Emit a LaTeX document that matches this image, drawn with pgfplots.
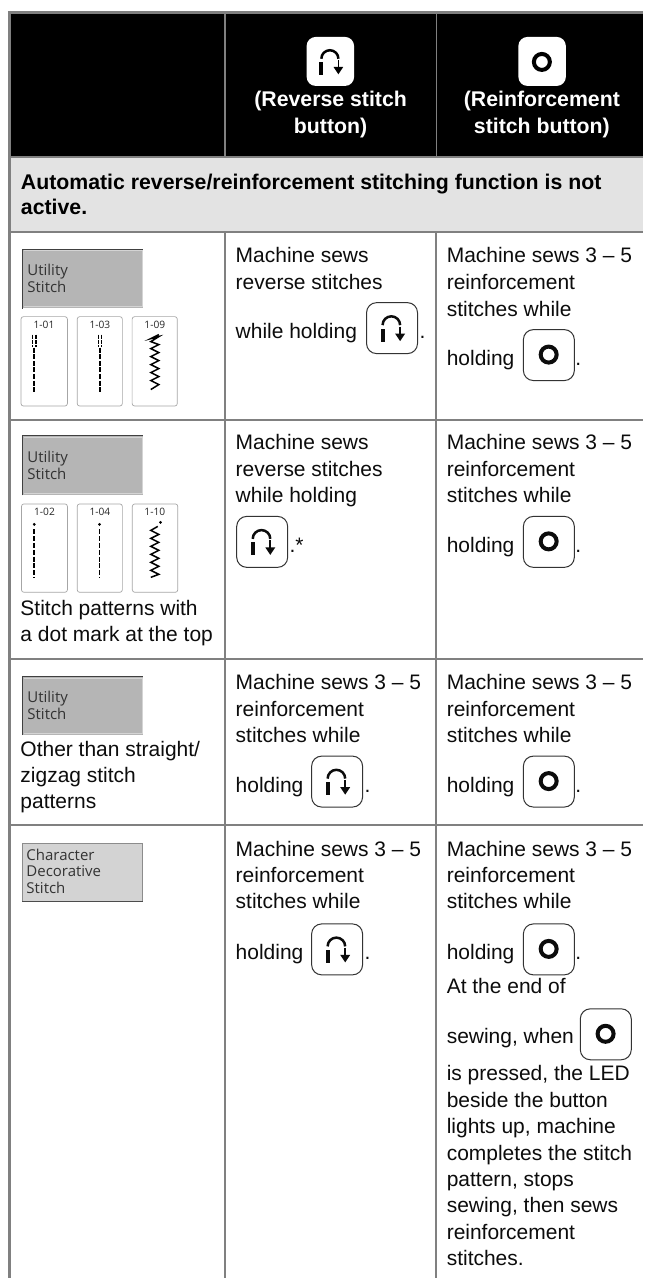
\documentclass[border=0pt]{standalone}
\usepackage{pgfplots}
\pgfplotsset{compat=1.18}
\usepackage{fontspec}
\setmainfont{Liberation Sans}
\newfontfamily\osans{Open Sans}
\definecolor{rulec}{HTML}{808080}
\definecolor{band}{HTML}{E3E3E3}
\definecolor{ink}{HTML}{0C0C0C}
\definecolor{boxa}{HTML}{B5B5B5}
\definecolor{boxb}{HTML}{D3D3D3}
\newcommand{\bodyf}{\fontsize{21}{27}\selectfont\color{ink}}
\newcommand{\bbodyf}{\fontsize{21.3}{27}\selectfont\bfseries}
\newcommand{\txt}[3]{\node[anchor=base west,inner sep=0pt,outer sep=0pt] at (axis cs:#1,#2) {\bodyf #3};}
\newcommand{\btxt}[3]{\node[anchor=base west,inner sep=0pt,outer sep=0pt] at (axis cs:#1,#2) {\bbodyf #3};}
\newcommand{\htxt}[3]{\node[anchor=base,inner sep=0pt,outer sep=0pt,text=white] at (axis cs:#1,#2) {\bbodyf #3};}
\newcommand{\osn}[3]{\node[anchor=base west,inner sep=0pt,outer sep=0pt,text=black!80] at (axis cs:#1,#2) {\osans\fontsize{15}{17}\selectfont #3};}
\newcommand{\tilelab}[3]{\node[anchor=base,inner sep=0pt,outer sep=0pt,text=black!85] at (axis cs:#1,#2) {\osans\fontsize{10.2}{12}\selectfont #3};}
% icons, drawn relative to the top left corner of a 51 x 51 button
\newcommand{\revicon}{%
  \draw[line width=2.5pt,ink] (16,22.5) arc[start angle=180,end angle=360,radius=8.8];
  \fill[ink] (14,26) rectangle (18,39);
  \draw[line width=1.6pt,ink] (33.6,24) -- (33.6,32);
  \fill[ink] (28.6,31) -- (38.6,31) -- (33.6,38.5) -- cycle;}
\newcommand{\recicon}{\draw[line width=4pt,ink] (25.3,25) circle[radius=8];}
\newcommand{\revbtn}[2]{\begin{scope}[shift={(axis cs:#1,#2)},x=1pt,y=-1pt]
  \draw[line width=1pt,black!80,rounded corners=10pt] (0,0) rectangle (51,51); \revicon\end{scope}}
\newcommand{\recbtn}[2]{\begin{scope}[shift={(axis cs:#1,#2)},x=1pt,y=-1pt]
  \draw[line width=1pt,black!80,rounded corners=10pt] (0,0) rectangle (51,51); \recicon\end{scope}}
\newcommand{\tile}[4]{\draw[line width=0.7pt,black!35,rounded corners=2.5pt] (axis cs:#1,#2) rectangle (axis cs:#3,#4);}
\begin{document}
\begin{tikzpicture}
\begin{axis}[
  scale only axis, width=644pt, height=1279pt,
  xmin=0, xmax=644, ymin=0, ymax=1279, y dir=reverse,
  hide axis, clip=false]
% page
\addplot[fill=white,draw=none] coordinates {(0,0)(644,0)(644,1279)(0,1279)} --cycle;
% header and band
\addplot[fill=black,draw=none] coordinates {(9,12)(644,12)(644,157)(9,157)} --cycle;
\addplot[fill=band,draw=none] coordinates {(9,157)(644,157)(644,232)(9,232)} --cycle;
% rules
\addplot[rulec,line width=2.6pt] coordinates {(8,12.3)(644,12.3)};
\addplot[rulec,line width=3pt] coordinates {(9.5,11)(9.5,1279)};
\addplot[rulec,line width=1.6pt] coordinates {(225.5,12)(225.5,157)};
\addplot[rulec,line width=1.6pt] coordinates {(437,12)(437,157)};
\addplot[rulec,line width=2pt] coordinates {(225.5,232)(225.5,1279)};
\addplot[rulec,line width=2pt] coordinates {(437,232)(437,1279)};
\addplot[rulec,line width=2.2pt] coordinates {(9,157.3)(644,157.3)};
\addplot[rulec,line width=2pt] coordinates {(9,232.3)(644,232.3)};
\addplot[rulec,line width=2pt] coordinates {(9,420)(644,420)};
\addplot[rulec,line width=2pt] coordinates {(9,660)(644,660)};
\addplot[rulec,line width=2pt] coordinates {(9,826)(644,826)};
% header buttons
\begin{scope}[shift={(axis cs:307,37)},x=1pt,y=-1pt]
  \fill[white,rounded corners=9pt] (0,0) rectangle (47.5,49);
  \begin{scope}[shift={(-0.8,0)},x=0.97pt,y=-0.97pt]\draw[line width=2.5pt,black] (16,22.5) arc[start angle=180,end angle=360,radius=8.8];
  \fill[black] (14,26) rectangle (18,39);
  \draw[line width=1.6pt,black] (33.6,24) -- (33.6,32);
  \fill[black] (28.6,31) -- (38.6,31) -- (33.6,38.5) -- cycle;\end{scope}
\end{scope}
\begin{scope}[shift={(axis cs:519,37)},x=1pt,y=-1pt]
  \fill[white,rounded corners=9pt] (0,0) rectangle (47.5,49);
  \draw[line width=4pt,black] (23.5,25) circle[radius=8];
\end{scope}
\htxt{331}{107}{(Reverse stitch}
\htxt{331}{134}{button)}
\htxt{542.5}{107}{(Reinforcement}
\htxt{542.5}{134}{stitch button)}
\btxt{21}{190}{Automatic reverse/reinforcement stitching function is not}
\btxt{21}{215}{active.}
% ---------- row 1
\addplot[fill=boxa,draw=none] coordinates {(22,249)(143,249)(143,308.5)(22,308.5)} --cycle;
\addplot[black!75,line width=1pt] coordinates {(22.5,309)(22.5,249.5)(143,249.5)};
\addplot[black!17,line width=0.8pt] coordinates {(24,251)(142.5,251)(142.5,307)(24,307)};
\osn{27.5}{276}{Utility}
\osn{27.5}{293}{Stitch}
\tile{21}{317}{67.5}{406.5}
\tile{77.3}{317}{122.5}{406.5}
\tile{132.3}{317}{177.5}{406.5}
\tilelab{44}{329}{1-01}
\tilelab{100}{329}{1-03}
\tilelab{155}{329}{1-09}
\addplot[black,line width=1.2pt,dash pattern=on 4pt off 1.4pt] coordinates {(32.8,335)(32.8,347)};
\addplot[black,line width=1.2pt,dash pattern=on 4pt off 1.4pt] coordinates {(36,335)(36,347)};
\addplot[black,line width=1.8pt,dash pattern=on 5pt off 1.6pt] coordinates {(33.7,348)(33.7,392)};
\addplot[black,line width=1.2pt,dash pattern=on 4pt off 1.4pt] coordinates {(98.7,335)(98.7,347)};
\addplot[black,line width=1.2pt,dash pattern=on 4pt off 1.4pt] coordinates {(102,335)(102,347)};
\addplot[black,line width=1.8pt,dash pattern=on 5pt off 1.6pt] coordinates {(100,348)(100,392)};
\addplot[black,line width=1.5pt] coordinates {(159,335)(151,339)(159,337)(151,342)(159,345)(151,349)(159,353)(151,357)(159,361)(151,365)(159,369)(151,373)(159,377)(151,381)(159,385)(151,390)};
\txt{236}{263}{Machine sews}
\txt{236}{290}{reverse stitches}
\txt{236}{339}{while holding}
\revbtn{367}{303}
\txt{420}{339}{.}
\txt{447.3}{263}{Machine sews 3 – 5}
\txt{447.3}{290}{reinforcement}
\txt{447.3}{317}{stitches while}
\txt{447.3}{366}{holding}
\recbtn{524}{330}
\txt{576}{366}{.}
% ---------- row 2
\addplot[fill=boxa,draw=none] coordinates {(22,436)(143,436)(143,495.5)(22,495.5)} --cycle;
\addplot[black!75,line width=1pt] coordinates {(22.5,496)(22.5,436.5)(143,436.5)};
\addplot[black!17,line width=0.8pt] coordinates {(24,438)(142.5,438)(142.5,494)(24,494)};
\osn{27.5}{463}{Utility}
\osn{27.5}{480}{Stitch}
\tile{21.5}{504.5}{67.5}{593}
\tile{77.3}{504.5}{122.5}{593}
\tile{132.5}{504.5}{178}{593}
\tilelab{44.5}{516}{1-02}
\tilelab{100}{516}{1-04}
\tilelab{155}{516}{1-10}
\addplot[black,only marks,mark=*,mark size=1.2pt] coordinates {(34.3,525)(99.7,525)(160.7,523)};
\addplot[black,line width=1.8pt,dash pattern=on 5pt off 1.8pt] coordinates {(34.3,530)(34.3,578)};
\addplot[black,line width=1.8pt,dash pattern=on 5pt off 1.8pt] coordinates {(99.7,530)(99.7,578)};
\addplot[black,line width=1.5pt] coordinates {(158,527)(151,531)(159,535)(151,539)(159,543)(151,547)(159,551)(151,555)(159,559)(151,563)(159,567)(151,571)(159,575)(151,578)};
\txt{20.5}{616}{Stitch patterns with}
\txt{20.5}{642}{a dot mark at the top}
\txt{236}{450}{Machine sews}
\txt{236}{477}{reverse stitches}
\txt{236}{503}{while holding}
\revbtn{237}{517}
\txt{290}{553}{.*}
\txt{447.3}{450}{Machine sews 3 – 5}
\txt{447.3}{477}{reinforcement}
\txt{447.3}{503}{stitches while}
\txt{447.3}{553}{holding}
\recbtn{524}{517}
\txt{576}{553}{.}
% ---------- row 3
\addplot[fill=boxa,draw=none] coordinates {(22,677)(143,677)(143,735.5)(22,735.5)} --cycle;
\addplot[black!75,line width=1pt] coordinates {(22.5,736)(22.5,677.5)(143,677.5)};
\addplot[black!17,line width=0.8pt] coordinates {(24,679)(142.5,679)(142.5,734)(24,734)};
\osn{27.5}{703}{Utility}
\osn{27.5}{720}{Stitch}
\txt{20.5}{757}{Other than straight/}
\txt{20.5}{783}{zigzag stitch}
\txt{20.5}{809}{patterns}
\txt{236}{690}{Machine sews 3 – 5}
\txt{236}{717}{reinforcement}
\txt{236}{743}{stitches while}
\txt{236}{793}{holding}
\revbtn{312}{757}
\txt{365}{793}{.}
\txt{447.3}{690}{Machine sews 3 – 5}
\txt{447.3}{717}{reinforcement}
\txt{447.3}{743}{stitches while}
\txt{447.3}{793}{holding}
\recbtn{524}{757}
\txt{576}{793}{.}
% ---------- row 4
\addplot[fill=boxb,draw=black!45,line width=0.7pt] coordinates {(22.5,844.5)(142.5,844.5)(142.5,902.5)(22.5,902.5)} --cycle;
\addplot[black!70,line width=0.8pt] coordinates {(22.5,902.8)(143,902.8)};
\osn{26.5}{861}{Character}
\osn{26.5}{877.5}{Decorative}
\osn{26.5}{894.5}{Stitch}
\txt{236}{857}{Machine sews 3 – 5}
\txt{236}{884}{reinforcement}
\txt{236}{910}{stitches while}
\txt{236}{961}{holding}
\revbtn{312}{925}
\txt{365}{961}{.}
\txt{447.3}{857}{Machine sews 3 – 5}
\txt{447.3}{884}{reinforcement}
\txt{447.3}{910}{stitches while}
\txt{447.3}{961}{holding}
\recbtn{524}{925}
\txt{576}{961}{.}
\txt{447.3}{995}{At the end of}
\txt{447.3}{1045}{sewing, when}
\recbtn{581}{1010}
\txt{447.3}{1082}{is pressed, the LED}
\txt{447.3}{1108.5}{beside the button}
\txt{447.3}{1135}{lights up, machine}
\txt{447.3}{1161.5}{completes the stitch}
\txt{447.3}{1188}{pattern, stops}
\txt{447.3}{1214}{sewing, then sews}
\txt{447.3}{1240.5}{reinforcement}
\txt{447.3}{1267}{stitches.}
\end{axis}
\end{tikzpicture}
\end{document}
